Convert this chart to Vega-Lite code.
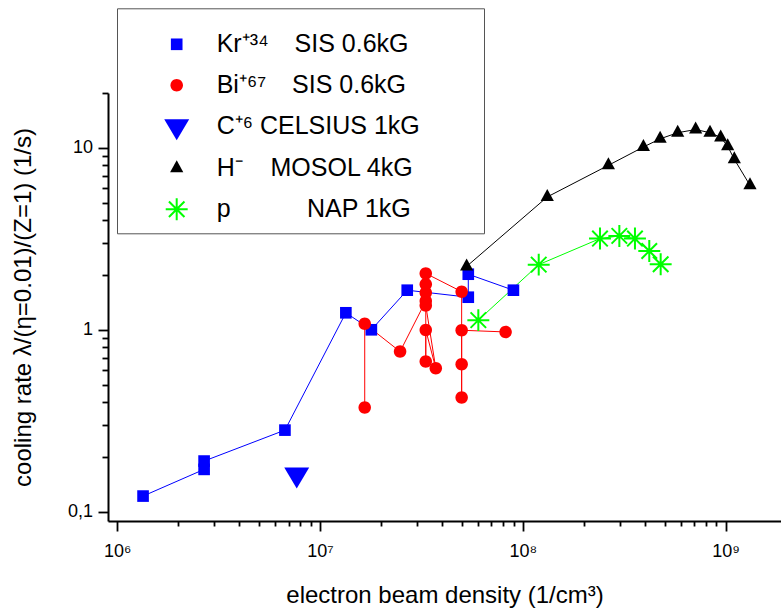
{
  "$schema": "https://vega.github.io/schema/vega-lite/v6.json",
  "width": 673,
  "height": 428,
  "autosize": {"type": "none"},
  "padding": {"left": 108, "top": 93, "right": 0, "bottom": 87},
  "background": "white",
  "config": {
    "view": {"stroke": null},
    "font": "Liberation Sans",
    "axis": {
      "grid": false,
      "domainColor": "black",
      "domainWidth": 2,
      "tickColor": "black",
      "tickWidth": 1.8,
      "labelColor": "black",
      "titleColor": "black",
      "labelFont": "Liberation Sans",
      "titleFont": "Liberation Sans",
      "labelFontSize": 18,
      "titleFontSize": 24,
      "titleFontWeight": "normal",
      "labelOverlap": false,
      "labelFlush": false
    }
  },
  "data": {
    "values": [
      {"s": "Kr", "i": 0, "x": 1340000, "y": 0.122},
      {"s": "Kr", "i": 1, "x": 2680000, "y": 0.171},
      {"s": "Kr", "i": 2, "x": 2680000, "y": 0.19},
      {"s": "Kr", "i": 3, "x": 6710000, "y": 0.281},
      {"s": "Kr", "i": 4, "x": 13400000, "y": 1.24},
      {"s": "Kr", "i": 5, "x": 17900000, "y": 1.0},
      {"s": "Kr", "i": 6, "x": 26900000, "y": 1.65},
      {"s": "Kr", "i": 7, "x": 53800000, "y": 1.51},
      {"s": "Kr", "i": 8, "x": 53800000, "y": 2.02},
      {"s": "Kr", "i": 9, "x": 89800000, "y": 1.65},
      {"s": "Bi", "i": 0, "x": 16600000, "y": 0.374},
      {"s": "Bi", "i": 1, "x": 16600000, "y": 1.08},
      {"s": "Bi", "i": 2, "x": 24800000, "y": 0.759},
      {"s": "Bi", "i": 3, "x": 33200000, "y": 1.44},
      {"s": "Bi", "i": 4, "x": 33200000, "y": 0.669},
      {"s": "Bi", "i": 5, "x": 33200000, "y": 0.997},
      {"s": "Bi", "i": 6, "x": 37200000, "y": 0.614},
      {"s": "Bi", "i": 7, "x": 33200000, "y": 1.36},
      {"s": "Bi", "i": 8, "x": 33200000, "y": 1.6},
      {"s": "Bi", "i": 9, "x": 33200000, "y": 1.78},
      {"s": "Bi", "i": 10, "x": 33200000, "y": 2.04},
      {"s": "Bi", "i": 11, "x": 49900000, "y": 1.62},
      {"s": "Bi", "i": 12, "x": 49900000, "y": 0.424},
      {"s": "Bi", "i": 13, "x": 49900000, "y": 0.646},
      {"s": "Bi", "i": 14, "x": 49900000, "y": 0.994},
      {"s": "Bi", "i": 15, "x": 82200000, "y": 0.973},
      {"s": "C", "i": 0, "x": 7670000, "y": 0.16},
      {"s": "H", "i": 0, "x": 52800000, "y": 2.23},
      {"s": "H", "i": 1, "x": 131900000, "y": 5.37},
      {"s": "H", "i": 2, "x": 264000000, "y": 8.01},
      {"s": "H", "i": 3, "x": 393000000, "y": 10.1},
      {"s": "H", "i": 4, "x": 475000000, "y": 11.2},
      {"s": "H", "i": 5, "x": 580000000, "y": 12.1},
      {"s": "H", "i": 6, "x": 711000000, "y": 12.6},
      {"s": "H", "i": 7, "x": 837000000, "y": 12.1},
      {"s": "H", "i": 8, "x": 945000000, "y": 11.4},
      {"s": "H", "i": 9, "x": 1023000000, "y": 10.2},
      {"s": "H", "i": 10, "x": 1103000000, "y": 8.64},
      {"s": "H", "i": 11, "x": 1318000000, "y": 6.22},
      {"s": "p", "i": 0, "x": 60300000, "y": 1.13},
      {"s": "p", "i": 1, "x": 119700000, "y": 2.28},
      {"s": "p", "i": 2, "x": 240000000, "y": 3.17},
      {"s": "p", "i": 3, "x": 299000000, "y": 3.28},
      {"s": "p", "i": 4, "x": 357000000, "y": 3.17},
      {"s": "p", "i": 5, "x": 420000000, "y": 2.71},
      {"s": "p", "i": 6, "x": 478000000, "y": 2.29}
    ]
  },
  "encoding": {
    "x": {
      "field": "x",
      "type": "quantitative",
      "scale": {"type": "log", "domain": [900000, 1874000000], "nice": false},
      "axis": {
        "title": "electron beam density (1/cm³)",
        "values": [1000000, 2000000, 3000000, 4000000, 5000000, 6000000, 7000000, 8000000, 9000000,
                   10000000, 20000000, 30000000, 40000000, 50000000, 60000000, 70000000, 80000000, 90000000,
                   100000000, 200000000, 300000000, 400000000, 500000000, 600000000, 700000000, 800000000, 900000000,
                   1000000000],
        "labelExpr": "datum.value == 1000000 ? '10⁶' : datum.value == 10000000 ? '10⁷' : datum.value == 100000000 ? '10⁸' : datum.value == 1000000000 ? '10⁹' : ''",
        "tickSize": {"condition": {"test": "indexof([1000000, 10000000, 100000000, 1000000000], datum.value) >= 0", "value": 10}, "value": 5},
        "labelPadding": 11,
        "titlePadding": 23
      }
    },
    "y": {
      "field": "y",
      "type": "quantitative",
      "scale": {"type": "log", "domain": [0.089, 20], "nice": false},
      "axis": {
        "title": "cooling rate λ/(η=0.01)/(Z=1) (1/s)",
        "values": [0.1, 0.2, 0.3, 0.4, 0.5, 0.6, 0.7, 0.8, 0.9, 1, 2, 3, 4, 5, 6, 7, 8, 9, 10, 20],
        "labelExpr": "datum.value == 0.1 ? '0,1' : datum.value == 1 ? '1' : datum.value == 10 ? '10' : ''",
        "tickSize": {"condition": {"test": "indexof([0.1, 1, 10], datum.value) >= 0", "value": 10}, "value": 6},
        "labelPadding": 5.5,
        "titlePadding": 32
      }
    }
  },
  "layer": [
    {
      "transform": [{"filter": "datum.s != 'C'"}],
      "mark": {"type": "line", "strokeWidth": 1, "clip": false},
      "encoding": {
        "stroke": {
          "field": "s",
          "type": "nominal",
          "scale": {"domain": ["H", "p", "Kr", "Bi"], "range": ["#000000", "#00ff00", "#0000ff", "#ff0000"]},
          "legend": null
        },
        "order": {"field": "i", "type": "quantitative"}
      }
    },
    {
      "mark": {"type": "point", "filled": true, "size": 144, "opacity": 1, "strokeWidth": 0},
      "encoding": {
        "color": {
          "field": "s",
          "type": "nominal",
          "scale": {"domain": ["Kr", "Bi", "C", "H", "p"], "range": ["#0000ff", "#ff0000", "#0000ff", "#000000", "#00ff00"]},
          "legend": {
            "orient": "none",
            "legendX": 9,
            "legendY": -84.7,
            "title": " ",
            "titleFontSize": 1,
            "titlePadding": 11.5,
            "padding": 11,
            "strokeColor": "#555555",
            "fillColor": "white",
            "symbolSize": 144,
            "symbolOffset": 36.2,
            "labelOffset": 27.5,
            "rowPadding": 15,
            "labelFont": "Liberation Sans",
            "labelFontSize": 25,
            "labelColor": "black",
            "labelLimit": 500,
            "labelExpr": "datum.value == 'Kr' ? 'Kr⁺³⁴\u00a0\u00a0\u00a0\u2009SIS 0.6kG' : datum.value == 'Bi' ? 'Bi⁺⁶⁷\u00a0\u00a0\u00a0\u2009SIS 0.6kG' : datum.value == 'C' ? 'C⁺⁶ CELSIUS 1kG\u00a0\u00a0\u00a0\u00a0\u00a0\u2800' : datum.value == 'H' ? 'H⁻\u00a0\u00a0\u00a0\u00a0MOSOL 4kG' : 'p\u00a0\u00a0\u00a0\u00a0\u00a0\u00a0\u00a0\u00a0\u00a0\u00a0\u00a0NAP 1kG'"
          }
        },
        "shape": {
          "field": "s",
          "type": "nominal",
          "scale": {
            "domain": ["Kr", "Bi", "C", "H", "p"],
            "range": [
              "M-0.97,-0.97H0.97V0.97H-0.97Z",
              "M1.04,0A1.04,1.04,0,1,1,-1.04,0A1.04,1.04,0,1,1,1.04,0Z",
              "M-2.08,-1.17H2.08L0,2.33Z",
              "M0,-1.33L1.1,0.67H-1.1Z",
              "M-0.167,-1.83H0.167V1.83H-0.167ZM-1.83,-0.167H1.83V0.167H-1.83ZM-1.176,-1.412L1.412,1.176L1.176,1.412L-1.412,-1.176ZM1.412,-1.176L-1.176,1.412L-1.412,1.176L1.176,-1.412Z"
            ]
          }
        }
      }
    }
  ]
}
